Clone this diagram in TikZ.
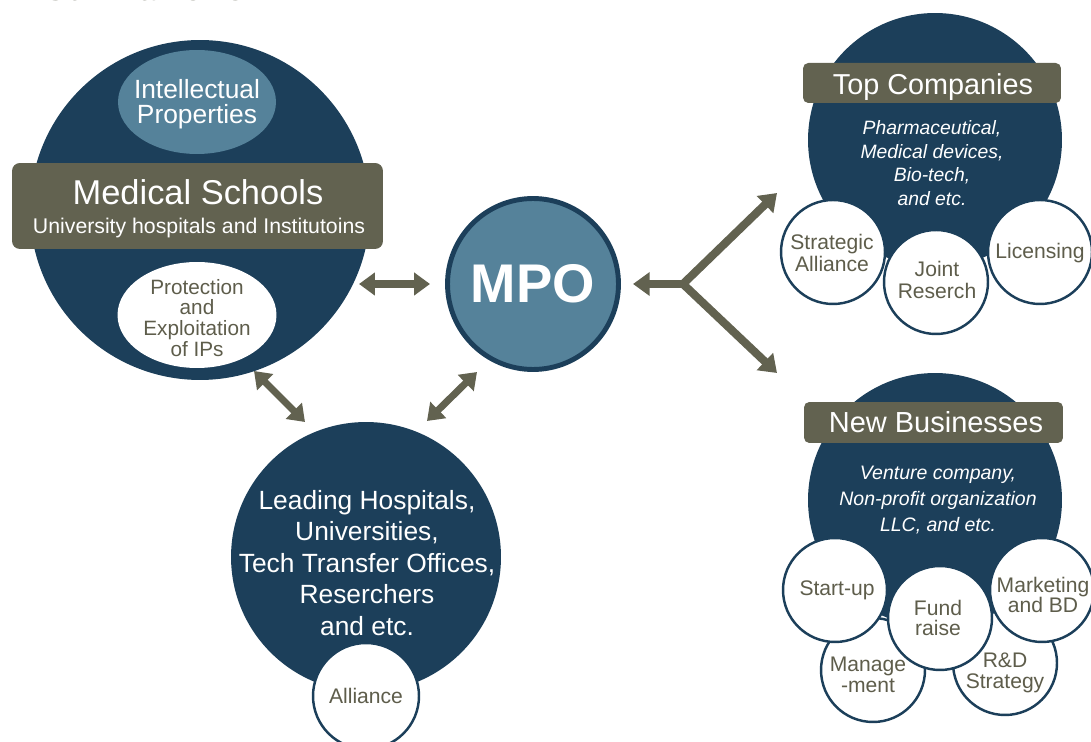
\documentclass[tikz,border=0pt]{standalone}
\usepackage{fontspec}
\setmainfont{Liberation Sans}
\usetikzlibrary{shapes.geometric,arrows.meta}
\definecolor{dblue}{RGB}{28,63,90}
\definecolor{mblue}{RGB}{85,130,154}
\definecolor{olive}{RGB}{98,98,80}
\definecolor{tolive}{RGB}{94,93,75}
\definecolor{titlecol}{RGB}{107,107,91}
\newcommand{\fs}[2]{\fontsize{#1}{#2}\selectfont}
\begin{document}
\begin{tikzpicture}[x=0.02cm,y=-0.02cm,
  bigcirc/.style={circle, fill=dblue, inner sep=0pt},
  smallcirc/.style={circle, fill=white, draw=dblue, line width=1.4pt, minimum size=2.08cm, inner sep=0pt},
  tagbox/.style={fill=olive, inner sep=0pt},
  wtext/.style={text=white, align=center, inner sep=0pt},
  otext/.style={text=tolive, align=center, inner sep=0pt},
  conn/.style={draw=olive, line width=4pt, arrows={Triangle[width=12.5pt,length=9pt]-Triangle[width=12.5pt,length=9pt]}},
  yconn/.style={draw=olive, line width=4.6pt, line join=miter},
  ytip/.style={arrows={-Triangle[width=13pt,length=9.5pt]}},
]
\useasboundingbox (0,0) rectangle (1091,742);
\fill[white] (0,0) rectangle (1091,742);

% title (cut off at top)
\node[anchor=base west, inner sep=0pt, text=titlecol, font=\bfseries\fs{17.8}{20}] (title) at (43,0.5) {Our Framework};

% Medical schools
\node[bigcirc, minimum size=6.8cm] (ms) at (200,210) {};
\node[ellipse, fill=mblue, minimum width=3.16cm, minimum height=2.08cm, inner sep=0pt] (ip) at (197,102) {};
\node[wtext, font=\fs{15}{14.5}] (iptext) at (197,104) {Intellectual\\Properties};
\node[ellipse, fill=white, minimum width=3.18cm, minimum height=2.12cm, inner sep=0pt] (pe) at (197,315) {};
\node[otext, font=\fs{11.8}{11.9}] (petext) at (197,318) {Protection\\and\\Exploitation\\of IPs};
\node[tagbox, rounded corners=4.5pt, minimum width=7.42cm, minimum height=1.72cm] (msbox) at (197.5,206) {};
\node[wtext, font=\fs{19.6}{20}] (mstitle) at (198,192) {Medical Schools};
\node[wtext, font=\fs{12.1}{13}] (mssub) at (199,228) {University hospitals and Institutoins};

% MPO
\node[circle, fill=mblue, draw=dblue, line width=2.8pt, minimum size=3.42cm, inner sep=0pt, text=white, font=\bfseries\fs{31}{31}] (mpo) at (533,284) {MPO};

% Leading hospitals
\node[bigcirc, minimum size=5.4cm] (lh) at (366,557) {};
\node[wtext, font=\fs{15}{17.9}] (lhtext) at (367,563) {Leading Hospitals,\\Universities,\\Tech Transfer Offices,\\Reserchers\\and etc.};
\node[smallcirc, minimum size=2.12cm] (al) at (366,696) {};
\node[otext, font=\fs{12}{12}] (altext) at (al) {Alliance};

% Top companies
\node[bigcirc, minimum size=5.08cm] (tc) at (935,140) {};
\node[tagbox, rounded corners=3pt, minimum width=5.16cm, minimum height=0.8cm] (tcbox) at (932,83) {};
\node[wtext, font=\fs{16.4}{17}] (tctitle) at (933,87) {Top Companies};
\node[wtext, font=\itshape\fs{11}{13.4}] (tcsub) at (932,163) {Pharmaceutical,\\Medical devices,\\Bio-tech,\\and etc.};
\node[smallcirc] (sa) at (833,252) {};
\node[smallcirc] (lic) at (1040,252) {};
\node[smallcirc] (jr) at (936,282) {};
\node[otext, font=\fs{12}{12.3}] (satext) at (832,253) {Strategic\\Alliance};
\node[otext, font=\fs{12}{12}] (lictext) at (1040,253) {Licensing};
\node[otext, font=\fs{12}{12}] (jrtext) at (937,280) {Joint\\Reserch};

% New businesses
\node[bigcirc, minimum size=5.08cm] (nb) at (935,500) {};
\node[tagbox, rounded corners=3pt, minimum width=5.18cm, minimum height=0.82cm] (nbbox) at (933.5,422.5) {};
\node[wtext, font=\fs{16.5}{17}] (nbtitle) at (936,422) {New Businesses};
\node[wtext, font=\itshape\fs{11.1}{15}] (nbsub) at (938,500) {Venture company,\\Non-profit organization\\LLC, and etc.};
\node[smallcirc] (mg) at (873,670) {};
\node[smallcirc] (rd) at (1005,663) {};
\node[smallcirc] (su) at (835,590) {};
\node[smallcirc] (mk) at (1042,590) {};
\node[smallcirc] (fr) at (940,618) {};
\node[otext, font=\fs{12}{11.8}] (mgtext) at (868,675) {Manage\\-ment};
\node[otext, font=\fs{12}{11.8}] (rdtext) at (1005,673) {R\&D\\Strategy};
\node[otext, font=\fs{12}{12}] (sutext) at (837,590) {Start-up};
\node[otext, font=\fs{12}{11.8}] (mktext) at (1043,595) {Marketing\\and BD};
\node[otext, font=\fs{12}{11.8}] (frtext) at (938,618) {Fund\\raise};

% connectors
\coordinate (a1) at (359,284);
\coordinate (a2) at (430,284);
\coordinate (b1) at (254,371);
\coordinate (b2) at (305,422);
\coordinate (c1) at (427,421);
\coordinate (c2) at (477,372);
\coordinate (yl) at (633,284);
\coordinate (yj) at (683,284);
\coordinate (yu) at (777,193);
\coordinate (yd) at (777,373);
\draw[conn] (a1) -- (a2);
\draw[conn] (b1) -- (b2);
\draw[conn] (c1) -- (c2);
\draw[yconn, arrows={Triangle[width=13pt,length=9.5pt]-Triangle[width=13pt,length=9.5pt]}] (yu) -- (yj) -- (yd);
\draw[yconn, ytip] (yj) -- (yl);
\end{tikzpicture}
\end{document}
